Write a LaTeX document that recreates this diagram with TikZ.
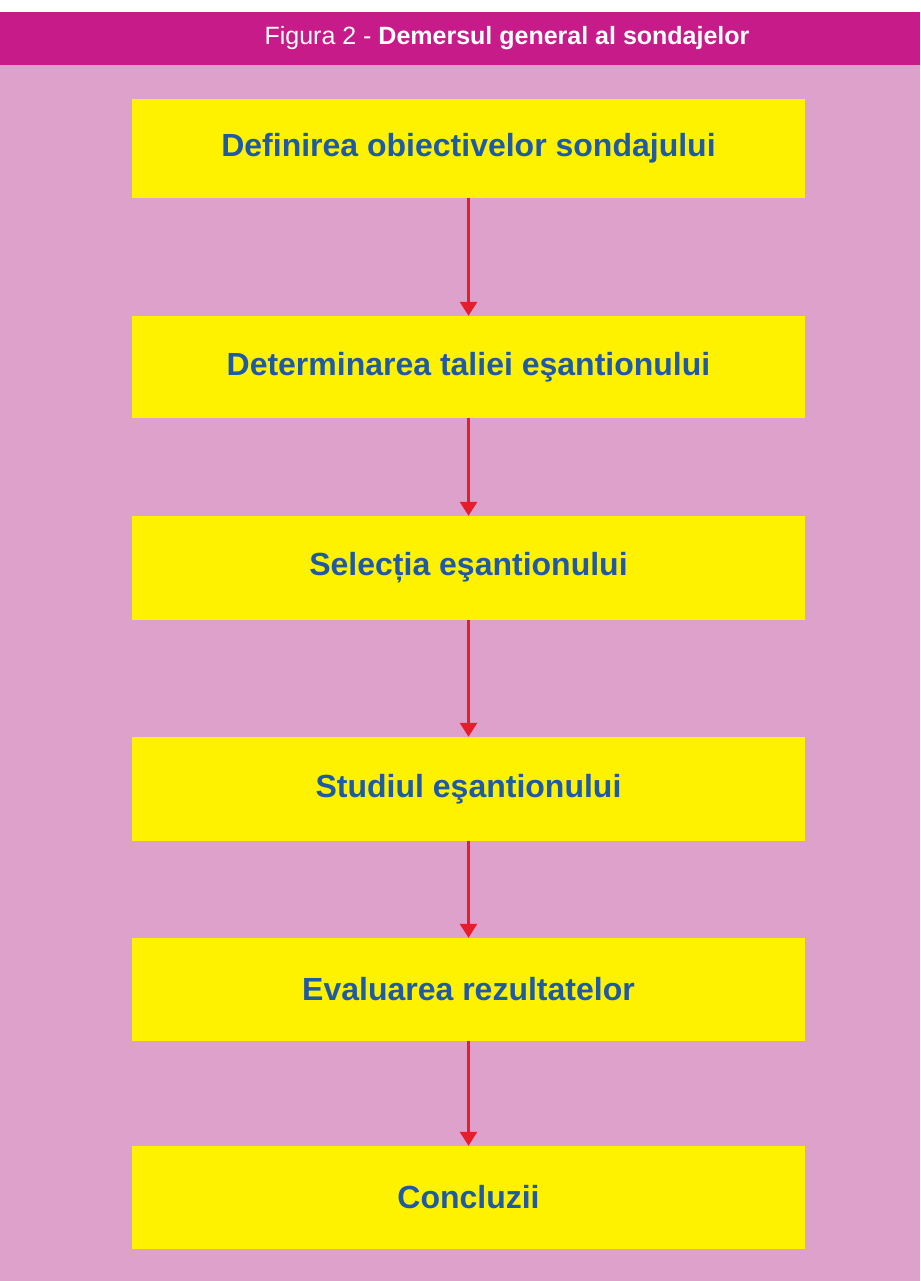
\documentclass[tikz,border=0pt]{standalone}
\usepackage{fontspec}
\setmainfont{Liberation Sans}
\usetikzlibrary{arrows.meta}
\definecolor{hdr}{HTML}{C71B8A}
\definecolor{bg}{HTML}{DEA1CC}
\definecolor{boxy}{HTML}{FFF200}
\definecolor{txtb}{HTML}{1E5AA5}
\definecolor{arr}{HTML}{E41E2B}
\tikzset{
  stepbox/.style={fill=boxy, draw=none, minimum width=673pt, minimum height=102pt,
    inner sep=0pt, text=txtb, font=\fontsize{32}{38}\selectfont\bfseries},
  flowarrow/.style={draw=arr, line width=2.8pt, -{Triangle[width=17pt,length=14pt]}},
  titletext/.style={text=white, inner sep=0pt, font=\fontsize{25}{29}\selectfont}
}
\begin{document}
\begin{tikzpicture}[x=1pt,y=-1pt]
\useasboundingbox (0,0) rectangle (920,1281);
\fill[white] (0,0) rectangle (920,1281);
\fill[bg] (0,12) rectangle (920,1281);
\fill[hdr] (0,12) rectangle (920,65);
\node[titletext] (title) at (507,38) {Figura 2 - \textbf{Demersul general al sondajelor}};
\node[stepbox, minimum height=99pt] (b1) at (468.5,148.5) {Definirea obiectivelor sondajului};
\node[stepbox] (b2) at (468.5,367) {Determinarea taliei eşantionului};
\node[stepbox, minimum height=104pt] (b3) at (468.5,568) {Selecția eşantionului};
\node[stepbox, minimum height=104pt] (b4) at (468.5,789) {Studiul eşantionului};
\node[stepbox, minimum height=103pt] (b5) at (468.5,989.5) {Evaluarea rezultatelor};
\node[stepbox, minimum height=103pt] (b6) at (468.5,1197.5) {Concluzii};
\draw[flowarrow] (b1.south) -- (b2.north);
\draw[flowarrow] (b2.south) -- (b3.north);
\draw[flowarrow] (b3.south) -- (b4.north);
\draw[flowarrow] (b4.south) -- (b5.north);
\draw[flowarrow] (b5.south) -- (b6.north);
\end{tikzpicture}
\end{document}
